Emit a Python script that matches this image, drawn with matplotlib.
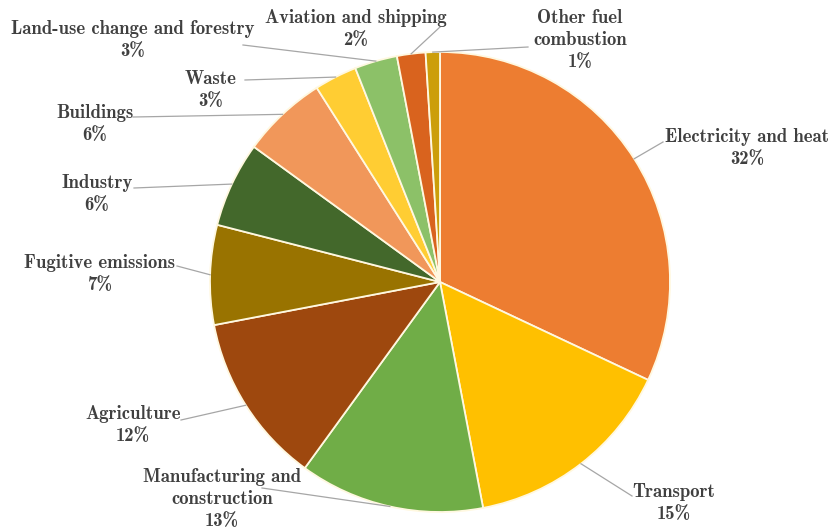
import matplotlib
matplotlib.use("Agg")
import matplotlib.pyplot as plt
import numpy as np

# emissions share by sector, clockwise from 12 o'clock
sectors = [
    "Electricity and heat",
    "Transport",
    "Manufacturing and\nconstruction",
    "Agriculture",
    "Fugitive emissions",
    "Industry",
    "Buildings",
    "Waste",
    "Land-use change and forestry",
    "Aviation and shipping",
    "Other fuel\ncombustion",
]
shares = [32, 15, 13, 12, 7, 6, 6, 3, 3, 2, 1]
colors = [
    "#ED7D31", "#FFC000", "#70AD47", "#9E480E", "#997300", "#43682B",
    "#F1975A", "#FFCD33", "#8CC168", "#D9631E", "#CC9E0A",
]

# label block centres and leader-line starts (pixel coords, y down)
label_pos = [
    (747, 148), (674, 503), (222, 499), (133, 425), (100, 274), (97, 194),
    (95, 124), (211, 90), (133, 40), (356, 29), (580, 40),
]
line_start = [
    (663, 142), (632, 496), (262, 488), (181, 420), (177, 266), (134, 188),
    (133, 117), (245, 80), (243, 45), (440, 27), (528, 47),
]

W, H = 831, 529
cx, cy, r = 440, 282, 230

fig = plt.figure(figsize=(W / 100, H / 100), dpi=100)
ax = fig.add_axes([0, 0, 1, 1])
wedges, _ = ax.pie(
    shares,
    colors=colors,
    startangle=90,
    counterclock=False,
    center=(cx, H - cy),
    radius=r,
    wedgeprops=dict(edgecolor="#FFF8E0", linewidth=1.3),
)
ax.set_xlim(0, W)
ax.set_ylim(0, H)
ax.axis("off")

for w, name, pct, (tx, ty), (sx, sy) in zip(
    wedges, sectors, shares, label_pos, line_start
):
    mid = np.deg2rad((w.theta1 + w.theta2) / 2)
    ex = cx + r * np.cos(mid)
    ey = (H - cy) + r * np.sin(mid)
    ax.plot([sx, ex], [H - sy, ey], color="#A6A6A6", lw=0.9)
    ax.text(
        tx, H - ty, f"{name}\n{pct}%",
        ha="center", va="center", family="cmb10", fontsize=13.5,
        color="#404040", linespacing=1.32,
    )

fig.savefig("out.png", dpi=100)
